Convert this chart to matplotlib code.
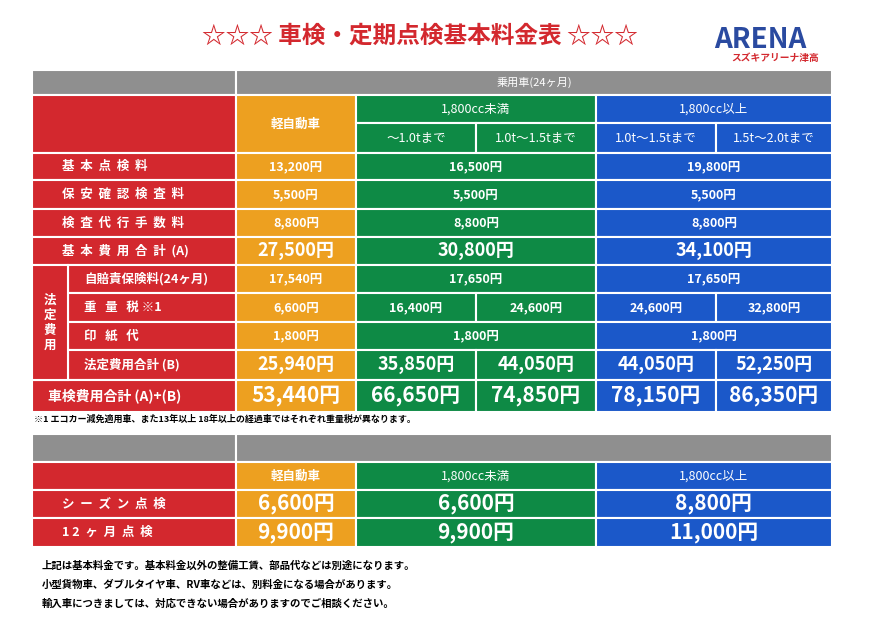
import matplotlib.pyplot as plt
from matplotlib.patches import Rectangle

plt.rcParams["font.family"] = "Noto Sans CJK JP"

RED = "#d3282e"
ORANGE = "#eda020"
GREEN = "#0e8a45"
BLUE = "#1b58c9"
GRAY = "#8f8f8f"

title = "☆☆☆ 車検・定期点検基本料金表 ☆☆☆"
group_header = "乗用車(24ヶ月)"
kei_label = "軽自動車"
cc_labels = ["1,800cc未満", "1,800cc以上"]
weight_labels = ["～1.0tまで", "1.0t～1.5tまで", "1.0t～1.5tまで", "1.5t～2.0tまで"]

row_labels = ["基  本  点  検  料", "保  安  確  認  検  査  料", "検  査  代  行  手  数  料", "基  本  費  用  合  計  (A)",
              "自賠責保険料(24ヶ月)", "重   量   税 ※1", "印   紙   代", "法定費用合計 (B)", "車検費用合計 (A)+(B)"]
# values: 3 entries = kei, green merged, blue merged ; 5 entries = per weight class
row_values = [
    ["13,200円", "16,500円", "19,800円"],
    ["5,500円", "5,500円", "5,500円"],
    ["8,800円", "8,800円", "8,800円"],
    ["27,500円", "30,800円", "34,100円"],
    ["17,540円", "17,650円", "17,650円"],
    ["6,600円", "16,400円", "24,600円", "24,600円", "32,800円"],
    ["1,800円", "1,800円", "1,800円"],
    ["25,940円", "35,850円", "44,050円", "44,050円", "52,250円"],
    ["53,440円", "66,650円", "74,850円", "78,150円", "86,350円"],
]
row_big = [False, False, False, True, False, False, False, True, True]
footnote = "※1 エコカー減免適用車、また13年以上 18年以上の経過車ではそれぞれ重量税が異なります。"

check_labels = ["シ  ー  ズ  ン  点  検", "1 2  ヶ  月  点  検"]
check_values = [["6,600円", "6,600円", "8,800円"], ["9,900円", "9,900円", "11,000円"]]
notes = ["上記は基本料金です。基本料金以外の整備工賃、部品代などは別途になります。",
         "小型貨物車、ダブルタイヤ車、RV車などは、別料金になる場合があります。",
         "輸入車につきましては、対応できない場合がありますのでご相談ください。"]

# layout (pixel coords)
xs = [32, 236, 356, 476, 596, 716, 832]
colors5 = [ORANGE, GREEN, GREEN, BLUE, BLUE]
row_y = [153, 180, 209, 237, 265, 293, 322, 350, 380, 412]

fig = plt.figure(figsize=(8.76, 6.19), dpi=100)
ax = fig.add_axes([0, 0, 1, 1])
ax.set_xlim(0, 876)
ax.set_ylim(619, 0)
ax.set_axis_off()


def cell(x0, x1, y0, y1, color, text="", size=9, weight="bold", ha="center", tx=None):
    ax.add_patch(Rectangle((x0, y0), x1 - x0, y1 - y0, facecolor=color, edgecolor="white", lw=1.5))
    if text:
        ax.text(tx if tx is not None else (x0 + x1) / 2, (y0 + y1) / 2, text, color="white",
                fontsize=size, fontweight=weight, ha=ha, va="center")


ax.text(420, 36, title, color="#d3282e", fontsize=17, fontweight="bold", style="italic", ha="center", va="center")
ax.text(760, 40, "ARENA", color="#2a4aa0", fontsize=20, fontweight="bold", style="italic", ha="center", va="center")
ax.text(775, 58, "スズキアリーナ津高", color="#d3282e", fontsize=7, fontweight="bold", style="italic", ha="center", va="center")

# table 1 header
cell(xs[0], xs[1], 70, 95, GRAY)
cell(xs[1], xs[6], 70, 95, GRAY, group_header, 8, "normal")
cell(xs[0], xs[1], 95, 153, RED)
cell(xs[1], xs[2], 95, 153, ORANGE, kei_label, 9)
cell(xs[2], xs[4], 95, 123, GREEN, cc_labels[0], 9, "normal")
cell(xs[4], xs[6], 95, 123, BLUE, cc_labels[1], 9, "normal")
for i, lab in enumerate(weight_labels):
    cell(xs[2 + i], xs[3 + i], 123, 153, colors5[1 + i], lab, 9, "normal")

# table 1 body
for r, (lab, vals) in enumerate(zip(row_labels, row_values)):
    y0, y1 = row_y[r], row_y[r + 1]
    if 4 <= r <= 7:
        cell(68, xs[1], y0, y1, RED, lab, 9, "bold", "left", 84)
    else:
        cell(xs[0], xs[1], y0, y1, RED, lab, 10 if r == 8 else 9, "bold", "left", 62 if r < 8 else 48)
    size = 15 if r == 8 else (13 if row_big[r] else 9)
    if len(vals) == 3:
        cell(xs[1], xs[2], y0, y1, ORANGE, vals[0], size)
        cell(xs[2], xs[4], y0, y1, GREEN, vals[1], size)
        cell(xs[4], xs[6], y0, y1, BLUE, vals[2], size)
    else:
        for i, v in enumerate(vals):
            cell(xs[1 + i], xs[2 + i], y0, y1, colors5[i], v, size)
cell(xs[0], 68, row_y[4], row_y[8], RED, "法\n定\n費\n用", 9, "bold")
ax.text(34, 419, footnote, fontsize=6.5, fontweight="bold", va="center")

# table 2
cell(xs[0], xs[1], 434, 462, GRAY)
cell(xs[1], xs[6], 434, 462, GRAY)
cell(xs[0], xs[1], 462, 490, RED)
cell(xs[1], xs[2], 462, 490, ORANGE, kei_label, 9)
cell(xs[2], xs[4], 462, 490, GREEN, cc_labels[0], 9, "normal")
cell(xs[4], xs[6], 462, 490, BLUE, cc_labels[1], 9, "normal")
y2 = [490, 518, 547]
for r, (lab, vals) in enumerate(zip(check_labels, check_values)):
    cell(xs[0], xs[1], y2[r], y2[r + 1], RED, lab, 9, "bold", "left", 62)
    cell(xs[1], xs[2], y2[r], y2[r + 1], ORANGE, vals[0], 15)
    cell(xs[2], xs[4], y2[r], y2[r + 1], GREEN, vals[1], 15)
    cell(xs[4], xs[6], y2[r], y2[r + 1], BLUE, vals[2], 15)

for i, n in enumerate(notes):
    ax.text(42, 566 + i * 19, n, fontsize=7.5, fontweight="bold", va="center")

fig.savefig("out.png", dpi=100)
